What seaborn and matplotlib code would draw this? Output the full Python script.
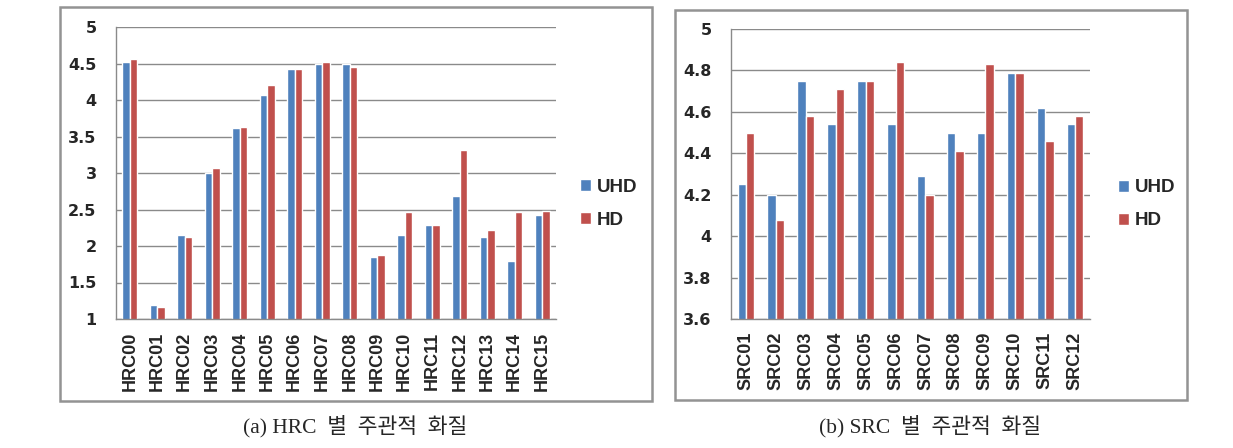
import pandas as pd
import numpy as np
import matplotlib.pyplot as plt
import seaborn as sns
from matplotlib.patches import Rectangle

# values
hrc_names = ["HRC%02d" % i for i in range(16)]
hrc_uhd = [4.52, 1.19, 2.15, 3.00, 3.61, 4.07, 4.42, 4.50, 4.50, 1.85, 2.15, 2.29, 2.68, 2.13, 1.80, 2.42]
hrc_hd = [4.56, 1.16, 2.12, 3.07, 3.63, 4.20, 4.42, 4.52, 4.45, 1.88, 2.47, 2.29, 3.31, 2.22, 2.46, 2.48]

src_names = ["SRC%02d" % i for i in range(1, 13)]
src_uhd = [4.25, 4.20, 4.75, 4.54, 4.75, 4.54, 4.29, 4.50, 4.50, 4.79, 4.62, 4.54]
src_hd = [4.50, 4.08, 4.58, 4.71, 4.75, 4.84, 4.20, 4.41, 4.83, 4.79, 4.46, 4.58]

series = ["UHD", "HD"]
colors = {"UHD": "#4F81BD", "HD": "#C0504D"}

hrc_ticks = [1, 1.5, 2, 2.5, 3, 3.5, 4, 4.5, 5]
src_ticks = [3.6, 3.8, 4.0, 4.2, 4.4, 4.6, 4.8, 5.0]
src_labels = ["3.6", "3.8", "4", "4.2", "4.4", "4.6", "4.8", "5"]

captions = ["(a) HRC  별  주관적  화질", "(b) SRC  별  주관적  화질"]


def long_form(names, uhd, hd):
    return pd.DataFrame({
        "name": names * 2,
        "series": ["UHD"] * len(names) + ["HD"] * len(names),
        "score": uhd + hd,
    })


sns.set_style("white")
plt.rcParams["font.family"] = ["Liberation Sans", "DejaVu Sans"]

W, H = 1233, 448
fig = plt.figure(figsize=(W / 100, H / 100), dpi=100)


def px_axes(x0, y0, x1, y1):
    return fig.add_axes([x0 / W, 1 - y1 / H, (x1 - x0) / W, (y1 - y0) / H])


# outer frames around each panel
for (x0, y0, x1, y1) in [(60, 7, 652, 401), (675, 10, 1187, 400)]:
    fig.add_artist(Rectangle((x0 / W, 1 - y1 / H), (x1 - x0) / W, (y1 - y0) / H,
                             transform=fig.transFigure, fill=False,
                             edgecolor="#939393", linewidth=1.8))


def draw_panel(ax, df, names, ticks, ticklabels, ylim, legend_xy):
    sns.barplot(data=df, x="name", y="score", hue="series", hue_order=series,
                palette=colors, width=0.56, saturation=1, ax=ax, legend=True)
    ax.set_ylim(*ylim)
    ax.set_xlim(-0.5, len(names) - 0.5)
    ax.set_yticks(ticks)
    ax.set_yticklabels(ticklabels, fontsize=11.5, fontweight="bold",
                       family="DejaVu Sans")
    ax.set_xticks(range(len(names)))
    ax.set_xticklabels(names, rotation=90, fontsize=13, fontweight="bold")
    ax.set_xticks(np.arange(-0.5, len(names), 1), minor=True)
    ax.tick_params(axis="x", which="major", length=0, pad=9)
    ax.tick_params(axis="x", which="minor", length=4, color="#8a8a8a", direction="out")
    ax.tick_params(axis="y", length=5, color="#8a8a8a", direction="out", pad=9)
    ax.yaxis.grid(True, color="#8a8a8a", linewidth=1)
    ax.set_axisbelow(True)
    for s in ["top", "right"]:
        ax.spines[s].set_visible(False)
    for s in ["left", "bottom"]:
        ax.spines[s].set_color("#8a8a8a")
        ax.spines[s].set_linewidth(1)
    ax.set_xlabel("")
    ax.set_ylabel("")
    ax.legend(loc="center left", bbox_to_anchor=legend_xy, frameon=False,
              borderpad=0, borderaxespad=0,
              handlelength=0.6, handleheight=0.6, handletextpad=0.3,
              labelspacing=0.85, prop={"weight": "bold", "size": 13.5})


ax1 = px_axes(116, 27, 556, 319)
draw_panel(ax1, long_form(hrc_names, hrc_uhd, hrc_hd), hrc_names,
           hrc_ticks, [("%g" % t) for t in hrc_ticks], (1, 5), (1.055, 0.395))

ax2 = px_axes(731, 29, 1090, 319)
draw_panel(ax2, long_form(src_names, src_uhd, src_hd), src_names,
           src_ticks, src_labels, (3.6, 5.0), (1.078, 0.395))

cap_family = ["Liberation Serif", "Noto Sans CJK KR"]
fig.text(355 / W, 1 - 426 / H, captions[0], ha="center", va="center",
         fontsize=15.5, family=cap_family)
fig.text(930 / W, 1 - 426 / H, captions[1], ha="center", va="center",
         fontsize=15.5, family=cap_family)

fig.savefig("out.png", dpi=100)
